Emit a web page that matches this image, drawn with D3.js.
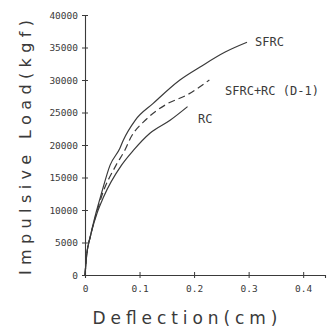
<!DOCTYPE html>
<html>
<head>
<meta charset="utf-8">
<script src="https://cdn.jsdelivr.net/npm/d3@7"></script>
<style>
  body { margin: 0; background: #fff; }
  svg { display: block; }
</style>
</head>
<body>
<svg id="chart" width="327" height="327"></svg>
<script>
// data: [deflection (cm), load (kgf)]
const sfrc = [[0,0],[0.003,3000],[0.01,6000],[0.02,9500],[0.03,12500],[0.046,16900],[0.064,19500],
  [0.07,20700],[0.092,23800],[0.125,26400],[0.174,30000],[0.211,32000],[0.257,34300],[0.297,35800]];
const sfrcRc = [[0,0],[0.003,3000],[0.01,6000],[0.02,9200],[0.03,12000],[0.057,16900],[0.073,19200],
  [0.083,21000],[0.113,24000],[0.15,26300],[0.187,27700],[0.228,30000]];
const rc = [[0,0],[0.003,3000],[0.01,6000],[0.022,9500],[0.034,12000],[0.067,16900],[0.089,19200],
  [0.119,21800],[0.156,23800],[0.188,25900]];

const xTicks = [0, 0.1, 0.2, 0.3, 0.4];
const yTicks = [0, 5000, 10000, 15000, 20000, 25000, 30000, 35000, 40000];
const seriesNames = ['SFRC', 'SFRC+RC (D-1)', 'RC'];

const ink = '#3a3a3a';
const svg = d3.select('#chart');

const x = d3.scaleLinear().domain([0, 0.44]).range([85, 325]);
const y = d3.scaleLinear().domain([0, 40000]).range([275, 15]);

// axes
const xAxis = svg.append('g')
  .attr('transform', 'translate(0,' + y(0) + ')')
  .call(d3.axisBottom(x).tickValues(xTicks).tickSizeOuter(0).tickSize(3).tickPadding(5)
    .tickFormat(d => d === 0 ? '0' : d3.format('.1f')(d)));

const yAxis = svg.append('g')
  .attr('transform', 'translate(' + x(0) + ',0)')
  .call(d3.axisLeft(y).tickValues(yTicks).tickSizeOuter(0).tickSize(3).tickPadding(4)
    .tickFormat(d3.format('d')));

// ticks cross the axis line
xAxis.selectAll('.tick line').attr('y1', -3).attr('y2', 3);
yAxis.selectAll('.tick line').attr('x1', -3).attr('x2', 3);
xAxis.select('.tick:first-child line').remove();

[xAxis, yAxis].forEach(g => {
  g.select('.domain').attr('stroke', ink).attr('stroke-width', 1.1);
  g.selectAll('.tick line').attr('stroke', ink);
  g.selectAll('text')
    .attr('fill', ink)
    .style('font-family', 'DejaVu Sans Mono')
    .style('font-size', '9.5px');
});
xAxis.selectAll('text').attr('dy', '0.9em');

// curves
const line = d3.line().x(d => x(d[0])).y(d => y(d[1])).curve(d3.curveMonotoneX);

svg.append('path').datum(sfrc).attr('d', line)
  .attr('fill', 'none').attr('stroke', ink).attr('stroke-width', 1.2);
svg.append('path').datum(sfrcRc).attr('d', line)
  .attr('fill', 'none').attr('stroke', ink).attr('stroke-width', 1.2)
  .attr('stroke-dasharray', '7,4');
svg.append('path').datum(rc).attr('d', line)
  .attr('fill', 'none').attr('stroke', ink).attr('stroke-width', 1.2);

// curve labels
const labelPos = [[255, 46], [225, 94.5], [198, 122.5]];
svg.selectAll('text.lbl')
  .data(seriesNames)
  .enter().append('text')
  .attr('class', 'lbl')
  .attr('x', (d, i) => labelPos[i][0])
  .attr('y', (d, i) => labelPos[i][1])
  .attr('fill', ink)
  .style('font-family', 'DejaVu Sans Mono')
  .style('font-size', '12px')
  .text(d => d);

// axis titles
svg.append('text')
  .attr('x', 185).attr('y', 324)
  .attr('text-anchor', 'middle')
  .attr('fill', ink)
  .attr('textLength', 185)
  .attr('lengthAdjust', 'spacing')
  .style('font-family', 'DejaVu Sans')
  .style('font-size', '17px')
  .text('Deflection(cm)');

svg.append('text')
  .attr('transform', 'translate(31,147.5) rotate(-90)')
  .attr('text-anchor', 'middle')
  .attr('fill', ink)
  .attr('textLength', 255)
  .attr('lengthAdjust', 'spacing')
  .style('font-family', 'DejaVu Sans')
  .style('font-size', '16px')
  .text('Impulsive Load(kgf)');
</script>
</body>
</html>
